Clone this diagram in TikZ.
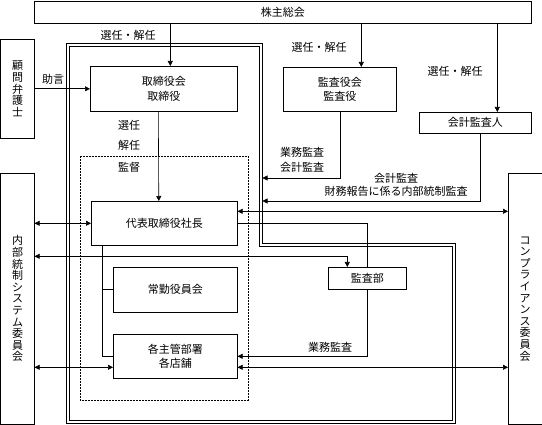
\documentclass[tikz,border=0pt]{standalone}
\usepackage{fontspec}
\setmainfont{Noto Sans CJK JP}
\usetikzlibrary{arrows.meta}
\begin{document}
\begin{tikzpicture}[x=1pt,y=-1pt,
  font=\fontsize{11}{14.5}\selectfont,
  box/.style={draw, line width=0.6pt, inner sep=0pt, align=center, anchor=north west},
  vbox/.style={box, font=\fontsize{11}{11.6}\selectfont},
  conn/.style={line width=0.6pt},
  arr/.style={conn, -{Triangle[length=5pt,width=5pt]}},
  darr/.style={conn, {Triangle[length=5pt,width=5pt]}-{Triangle[length=5pt,width=5pt]}},
  lbl/.style={inner sep=0pt, align=center},
  frameline/.style={line width=0.6pt},
  dotbox/.style={line width=0.6pt, dash pattern=on 1.6pt off 1.4pt}
]
\useasboundingbox (0,0) rectangle (542,425);

% frame (double line)
\draw[frameline] (66.1,43.6) -- (261.9,43.6) -- (261.9,243.1) -- (454.9,243.1) -- (454.9,422.9) -- (66.1,422.9) -- cycle;
\draw[frameline] (68.9,46.4) -- (259.1,46.4) -- (259.1,245.9) -- (452.1,245.9) -- (452.1,420.1) -- (68.9,420.1) -- cycle;
% supervised area
\draw[dotbox] (80,156) rectangle (248,400);

% boxes
\node[box, minimum width=497pt, minimum height=22pt] (kabu) at (34,1) {株主総会};
\node[box, minimum width=147pt, minimum height=45pt] (tori) at (90,66) {取締役会\\取締役};
\node[box, minimum width=113pt, minimum height=44pt] (kansayaku) at (283,67) {監査役会\\監査役};
\node[box, minimum width=112pt, minimum height=21pt] (kaikei) at (419,112) {会計監査人};
\node[vbox, minimum width=33.5pt, minimum height=99pt] (komon) at (0.5,39) {顧\\問\\弁\\護\\士};
\node[vbox, minimum width=33.5pt, minimum height=251pt] (naibu) at (0.5,173) {内\\部\\統\\制\\シ\\ス\\テ\\ム\\委\\員\\会};
\node[vbox, minimum width=33.5pt, minimum height=251pt] (comp) at (508,173) {コ\\ン\\プ\\ラ\\イ\\ア\\ン\\ス\\委\\員\\会};
\node[box, minimum width=146pt, minimum height=44pt] (daihyo) at (91,201) {代表取締役社長};
\node[box, minimum width=124pt, minimum height=45pt] (jokin) at (113,267) {常勤役員会};
\node[box, minimum width=124pt, minimum height=44pt] (kakushu) at (113,334) {各主管部署\\各店舗};
\node[box, minimum width=78pt, minimum height=22pt] (kansabu) at (328,267) {監査部};

% free ends at the frame
\coordinate (f1) at (262.5,178);
\coordinate (f2) at (262.5,201);

% connectors
\draw[arr] ([xshift=6.5pt]tori.north |- kabu.south) -- ([xshift=6.5pt]tori.north);
\draw[arr] ([xshift=21.5pt]kansayaku.north |- kabu.south) -- ([xshift=21.5pt]kansayaku.north);
\draw[arr] ([xshift=22pt]kaikei.north |- kabu.south) -- ([xshift=22pt]kaikei.north);
\draw[arr] (komon.east |- tori.west) -- (tori.west);
\draw[arr] ([xshift=-5.5pt]tori.south) -- ([xshift=-5.5pt]daihyo.north);
\draw[arr] (kansayaku.south) |- (f1);
\draw[arr] ([xshift=5pt]kaikei.south) |- (f2);
\draw[darr] ([yshift=12pt]daihyo.east) -- ([yshift=12pt]daihyo.east -| comp.west);
\draw[conn] (daihyo.east) -| (kansabu.north);
\draw[darr] ([yshift=42.5pt]naibu.east) -| ([xshift=-20pt]kansabu.north);
\draw[arr] (kansabu.south) |- (kakushu.east);
\draw[darr] ([yshift=-11pt]kakushu.east) -- ([yshift=-11pt]kakushu.east -| comp.west);
\draw[darr] (daihyo.west -| naibu.east) -- (daihyo.west);
\draw[darr] ([yshift=-11pt]kakushu.west -| naibu.east) -- ([yshift=-11pt]kakushu.west);
\coordinate (t) at ([xshift=-62pt]daihyo.south);
\draw[conn] (t) |- (kakushu.west);
\draw[conn] (t |- jokin.west) -- (jokin.west);

% labels
\node[lbl] (l1) at (128,35) {選任・解任};
\node[lbl] (l2) at (319,47) {選任・解任};
\node[lbl] (l3) at (455,71) {選任・解任};
\node[lbl] (l4) at (53,79) {助言};
\node[lbl] (l5) at (129,125) {選任};
\node[lbl] (l6) at (129,145) {解任};
\node[lbl] (l7) at (129,167) {監督};
\node[lbl] (l8) at (302,160) {業務監査\\会計監査};
\node[lbl, font=\fontsize{11}{13}\selectfont] (l9) at (396,185) {会計監査\\財務報告に係る内部統制監査};
\node[lbl] (l10) at (330,347) {業務監査};
\end{tikzpicture}
\end{document}
